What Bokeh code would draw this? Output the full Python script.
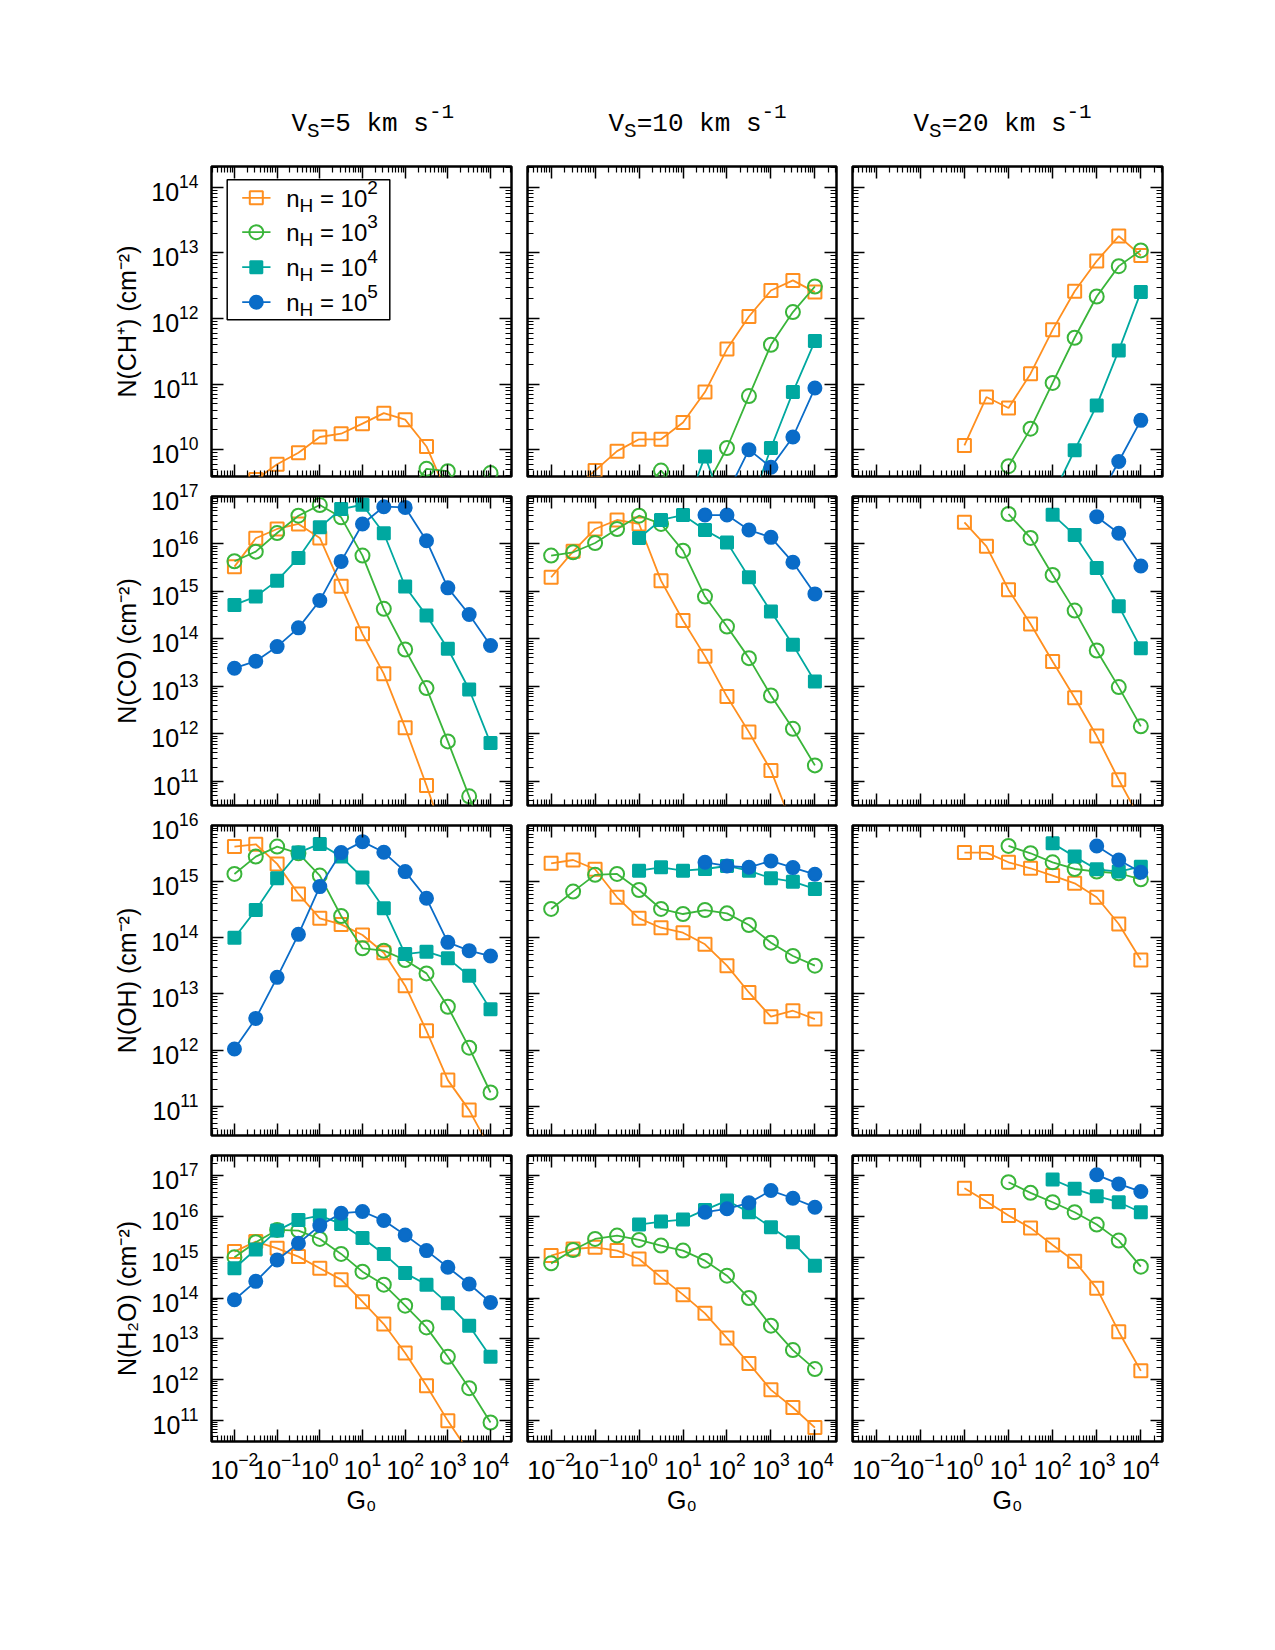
from bokeh.plotting import figure
from bokeh.layouts import column, row
from bokeh.models import (Range1d, LinearScale, LogScale, LogAxis, FixedTicker, Label,
                          ColumnDataSource, CustomJSTickFormatter)
from bokeh.embed import file_html
from bokeh.resources import INLINE

N = None

# radiation field strength G0 (half-decade grid)
g0 = [0.01, 0.0316, 0.1, 0.316, 1.0, 3.16, 10.0, 31.6, 100.0, 316.0, 1000.0, 3160.0, 10000.0]

# pre-shock densities n_H = 10^k
nh_exponents = [2, 3, 4, 5]
shock_speeds = [5, 10, 20]

# ---- N(CH+) ----
chp_v5_n2 = [2.0e9, 3.5e9, 6.0e9, 9.0e9, 1.56e10, 1.75e10, 2.49e10, 3.6e10, 2.87e10, 1.12e10, 2.0e9, N, N]
chp_v5_n3 = [N, N, N, N, N, N, N, N, 2.0e9, 5.1e9, 4.7e9, 1.5e9, 4.4e9]
chp_v5_n4 = [N, N, N, N, N, N, N, N, N, N, N, N, N]
chp_v5_n5 = [N, N, N, N, N, N, N, N, N, N, N, N, N]
chp_v10_n2 = [N, 2.5e9, 4.8e9, 9.5e9, 1.44e10, 1.44e10, 2.6e10, 7.55e10, 3.41e11, 1.07e12, 2.67e12, 3.8e12, 2.52e12]
chp_v10_n3 = [N, N, N, N, 2.0e9, 4.8e9, 2.0e9, 2.5e9, 1.06e10, 6.56e10, 3.97e11, 1.25e12, 3.07e12]
chp_v10_n4 = [N, N, N, N, N, N, 1.0e9, 7.9e9, 1.0e9, 1.2e9, 1.06e10, 7.55e10, 4.52e11]
chp_v10_n5 = [N, N, N, N, N, N, N, N, 2.1e9, 1.0e10, 5.4e9, 1.56e10, 8.7e10]
chp_v20_n2 = [N, N, N, N, 1.16e10, 6.34e10, 4.32e10, 1.44e11, 6.7e11, 2.6e12, 7.5e12, 1.8e13, 9.1e12]
chp_v20_n3 = [N, N, N, N, N, N, 5.6e9, 2.09e10, 1.04e11, 5.08e11, 2.16e12, 6.27e12, 1.09e13]
chp_v20_n4 = [N, N, N, N, N, N, N, N, 2.0e9, 9.8e9, 4.73e10, 3.26e11, 2.52e12]
chp_v20_n5 = [N, N, N, N, N, N, N, N, N, N, 1.6e9, 6.6e9, 2.8e10]

# ---- N(CO) ----
co_v5_n2 = [3.33e15, 1.32e16, 2.07e16, 2.64e16, 1.34e16, 1.29e15, 1.28e14, 1.84e13, 1.35e12, 8.2e10, 4.0e9, N, N]
co_v5_n3 = [4.32e15, 6.9e15, 1.7e16, 3.94e16, 6.6e16, 3.64e16, 5.69e15, 4.3e14, 5.98e13, 9.2e12, 6.95e11, 4.83e10, 3.0e9]
co_v5_n4 = [5.2e14, 7.8e14, 1.69e15, 5.08e15, 2.24e16, 5.45e16, 6.7e16, 1.68e16, 1.27e15, 3.1e14, 6.2e13, 8.6e12, 6.4e11]
co_v5_n5 = [2.42e13, 3.4e13, 6.9e13, 1.71e14, 6.43e14, 4.3e15, 2.64e16, 6.1e16, 5.9e16, 1.17e16, 1.19e15, 3.26e14, 7.26e13]
co_v10_n2 = [1.99e15, 7.0e15, 2.07e16, 3.2e16, 2.64e16, 1.69e15, 2.44e14, 4.34e13, 6.1e12, 1.09e12, 1.7e11, 1.1e10, N]
co_v10_n3 = [5.69e15, 6.68e15, 1.05e16, 2.07e16, 3.94e16, 2.64e16, 7.24e15, 7.8e14, 1.82e14, 3.94e13, 6.44e12, 1.28e12, 2.17e11]
co_v10_n4 = [N, N, N, N, 1.34e16, 3.2e16, 4.07e16, 1.97e16, 1.08e16, 1.99e15, 3.77e14, 7.5e13, 1.27e13]
co_v10_n5 = [N, N, N, N, N, N, N, 4.07e16, 4.07e16, 1.97e16, 1.38e16, 4.11e15, 8.87e14]
co_v20_n2 = [N, N, N, N, 2.86e16, 8.93e15, 1.09e15, 2.07e14, 3.35e13, 5.75e12, 9.0e11, 1.08e11, 1.5e10]
co_v20_n3 = [N, N, N, N, N, N, 4.28e16, 1.34e16, 2.23e15, 3.95e14, 5.7e13, 9.66e12, 1.44e12]
co_v20_n4 = [N, N, N, N, N, N, N, N, 4.14e16, 1.55e16, 3.13e15, 4.89e14, 6.38e13]
co_v20_n5 = [N, N, N, N, N, N, N, N, N, N, 3.76e16, 1.68e16, 3.44e15]

# ---- N(OH) ----
oh_v5_n2 = [4.21e15, 4.63e15, 2.07e15, 6.03e14, 2.22e14, 1.73e14, 1.12e14, 5.42e13, 1.4e13, 2.2e12, 2.91e11, 8.5e10, 1.7e10]
oh_v5_n3 = [1.37e15, 2.79e15, 4.21e15, 3.2e15, 1.28e15, 2.44e14, 6.48e13, 5.89e13, 4.01e13, 2.32e13, 5.9e12, 1.1e12, 1.75e11]
oh_v5_n4 = [1.0e14, 3.12e14, 1.15e15, 3.29e15, 4.7e15, 2.79e15, 1.18e15, 3.35e14, 5.13e13, 5.65e13, 4.3e13, 2.11e13, 5.3e12]
oh_v5_n5 = [1.04e12, 3.66e12, 1.97e13, 1.15e14, 8.15e14, 3.29e15, 5.16e15, 3.33e15, 1.51e15, 5.05e14, 8.28e13, 5.89e13, 4.73e13]
oh_v10_n2 = [2.12e15, 2.43e15, 1.66e15, 5.26e14, 2.22e14, 1.51e14, 1.23e14, 7.64e13, 3.18e13, 1.06e13, 3.92e12, 5.01e12, 3.56e12]
oh_v10_n3 = [3.26e14, 6.64e14, 1.32e15, 1.37e15, 7.1e14, 3.26e14, 2.65e14, 3.12e14, 2.72e14, 1.69e14, 8.17e13, 4.73e13, 3.18e13]
oh_v10_n4 = [N, N, N, N, 1.57e15, 1.8e15, 1.57e15, 1.68e15, 1.9e15, 1.57e15, 1.15e15, 1.0e15, 7.4e14]
oh_v10_n5 = [N, N, N, N, N, N, N, 2.21e15, 1.9e15, 1.8e15, 2.34e15, 1.78e15, 1.35e15]
oh_v20_n2 = [N, N, N, N, 3.29e15, 3.29e15, 2.21e15, 1.73e15, 1.28e15, 9.34e14, 5.26e14, 1.76e14, 4.01e13]
oh_v20_n3 = [N, N, N, N, N, N, 4.32e15, 3.2e15, 2.21e15, 1.68e15, 1.51e15, 1.41e15, 1.1e15]
oh_v20_n4 = [N, N, N, N, N, N, N, N, 4.83e15, 2.79e15, 1.66e15, 1.51e15, 1.85e15]
oh_v20_n5 = [N, N, N, N, N, N, N, N, N, N, 4.32e15, 2.43e15, 1.47e15]

# ---- N(H2O) ----
h2o_v5_n2 = [1.38e15, 2.43e15, 1.66e15, 1.04e15, 5.37e14, 2.83e14, 8.13e13, 2.3e13, 4.45e12, 6.98e11, 9.64e10, 1.6e10, N]
h2o_v5_n3 = [1.0e15, 2.34e15, 4.7e15, 4.53e15, 2.82e15, 1.21e15, 4.44e14, 2.13e14, 6.48e13, 1.9e13, 3.6e12, 6.12e11, 8.77e10]
h2o_v5_n4 = [5.37e14, 1.55e15, 4.53e15, 8.28e15, 1.06e16, 6.6e15, 2.99e15, 1.21e15, 4.12e14, 2.13e14, 7.4e13, 2.09e13, 3.6e12]
h2o_v5_n5 = [9.1e13, 2.57e14, 8.6e14, 2.21e15, 6.0e15, 1.21e16, 1.33e16, 7.98e15, 3.54e15, 1.46e15, 5.68e14, 2.21e14, 7.8e13]
h2o_v10_n2 = [1.1e15, 1.6e15, 1.76e15, 1.46e15, 9.1e14, 3.22e14, 1.21e14, 4.2e13, 1.04e13, 2.47e12, 5.57e11, 2.05e11, 6.6e10]
h2o_v10_n3 = [7.1e14, 1.51e15, 2.82e15, 3.41e15, 2.67e15, 1.94e15, 1.46e15, 8.28e14, 3.54e14, 1.0e14, 2.09e13, 5.26e12, 1.8e12]
h2o_v10_n4 = [N, N, N, N, 6.36e15, 7.53e15, 8.44e15, 1.46e16, 2.47e16, 1.28e16, 5.47e15, 2.34e15, 6.24e14]
h2o_v10_n5 = [N, N, N, N, N, N, N, 1.28e16, 1.55e16, 2.17e16, 4.36e16, 2.82e16, 1.7e16]
h2o_v20_n2 = [N, N, N, N, 4.98e16, 2.34e16, 1.06e16, 5.27e15, 2.01e15, 7.98e14, 1.73e14, 1.49e13, 1.63e12]
h2o_v20_n3 = [N, N, N, N, N, N, 6.98e16, 3.82e16, 2.25e16, 1.28e16, 6.36e15, 2.57e15, 5.89e14]
h2o_v20_n4 = [N, N, N, N, N, N, N, N, 8.13e16, 4.79e16, 3.16e16, 2.25e16, 1.28e16]
h2o_v20_n5 = [N, N, N, N, N, N, N, N, N, N, 1.06e17, 6.35e16, 4.12e16]

y_labels = ["N(CH\u207a) (cm\u207b\u00b2)", "N(CO) (cm\u207b\u00b2)", "N(OH) (cm\u207b\u00b2)", "N(H\u2082O) (cm\u207b\u00b2)"]
y_ranges = [(3.9e9, 2.07e14), (3.1e10, 1.0e17), (3.0e10, 1.0e16), (3.0e10, 3.16e17)]
y_decades = [(10, 14), (11, 17), (11, 16), (11, 17)]
x_range = (0.0029, 31000.0)
x_decades = (-2, 4)

panels = [
    [[chp_v5_n2, chp_v5_n3, chp_v5_n4, chp_v5_n5],
     [chp_v10_n2, chp_v10_n3, chp_v10_n4, chp_v10_n5],
     [chp_v20_n2, chp_v20_n3, chp_v20_n4, chp_v20_n5]],
    [[co_v5_n2, co_v5_n3, co_v5_n4, co_v5_n5],
     [co_v10_n2, co_v10_n3, co_v10_n4, co_v10_n5],
     [co_v20_n2, co_v20_n3, co_v20_n4, co_v20_n5]],
    [[oh_v5_n2, oh_v5_n3, oh_v5_n4, oh_v5_n5],
     [oh_v10_n2, oh_v10_n3, oh_v10_n4, oh_v10_n5],
     [oh_v20_n2, oh_v20_n3, oh_v20_n4, oh_v20_n5]],
    [[h2o_v5_n2, h2o_v5_n3, h2o_v5_n4, h2o_v5_n5],
     [h2o_v10_n2, h2o_v10_n3, h2o_v10_n4, h2o_v10_n5],
     [h2o_v20_n2, h2o_v20_n3, h2o_v20_n4, h2o_v20_n5]],
]

# series styling, one per density
ORANGE, GREEN, TEAL, BLUE = "#ff8f1f", "#3ab53a", "#00a8a0", "#0a6cc8"
styles = [
    dict(color=ORANGE, marker="square", filled=False, size=13),
    dict(color=GREEN, marker="circle", filled=False, size=14),
    dict(color=TEAL, marker="square", filled=True, size=12),
    dict(color=BLUE, marker="circle", filled=True, size=13),
]

# page geometry (pixels)
HEADER_H = 160
FRAME_W = [300, 309, 310]
FRAME_H = [310, 309, 310, 286]
PAD_L = [211, 8, 8]
PAD_R = [8, 8, 8]
PAD_T = [6, 18, 18, 18]
PAD_B = [2, 2, 2, 100]

SANS = "Liberation Sans"
MONO = "Liberation Mono"
BASELINE_FIX = 7  # lift for alphabetic-baseline labels
ARIAL_W = {"n": 0.556, "H": 0.722, " ": 0.278, "=": 0.584, "0": 0.556, "1": 0.556,
           "2": 0.556, "3": 0.556, "4": 0.556, "5": 0.556}


def text_width(s, size, mono=False):
    if mono:
        return 0.6 * size * len(s)
    return sum(ARIAL_W.get(ch, 0.556) for ch in s) * size


def compose(p, pieces, x0, y0, font, mono=False):
    """Lay out a run of text pieces (text, size, baseline shift) left to right."""
    x = x0
    for txt, size, dy in pieces:
        if txt.strip():
            p.add_layout(Label(x=x, y=y0 + dy + BASELINE_FIX, x_units="screen", y_units="screen",
                               text=txt, text_font=font, text_font_size=f"{size}px",
                               text_color="black", text_baseline="alphabetic", text_align="left"))
        x += text_width(txt, size, mono)


def log_ticker(lo, hi):
    majors = [10.0 ** k for k in range(lo, hi + 1)]
    minors = [m * 10.0 ** k for k in range(lo - 1, hi + 1) for m in range(2, 10)]
    return FixedTicker(ticks=majors, minor_ticks=minors)


def add_axis(p, side, ticker, labels, axis_label=None):
    ax = LogAxis(ticker=ticker)
    ax.major_tick_in = 12
    ax.major_tick_out = 0
    ax.minor_tick_in = 6
    ax.minor_tick_out = 0
    ax.major_tick_line_width = 1.5
    ax.minor_tick_line_width = 1.2
    ax.major_tick_line_color = "black"
    ax.minor_tick_line_color = "black"
    ax.axis_line_color = None
    if labels:
        ax.major_label_text_font = SANS
        ax.major_label_text_font_size = "25px"
        ax.major_label_text_color = "black"
        ax.major_label_standoff = 13 if side == "left" else 10
    else:
        ax.formatter = CustomJSTickFormatter(code="return ''")
        ax.major_label_text_font_size = "0px"
        ax.major_label_standoff = 0
    if axis_label:
        ax.axis_label = axis_label
        ax.axis_label_text_font = SANS
        ax.axis_label_text_font_size = "25px"
        ax.axis_label_text_font_style = "normal"
        ax.axis_label_text_color = "black"
        ax.axis_label_standoff = 7 if side == "left" else 4
    else:
        ax.axis_label_standoff = 0
    p.add_layout(ax, side)


def make_panel(ri, ci):
    fw, fh = FRAME_W[ci], FRAME_H[ri]
    p = figure(width=PAD_L[ci] + fw + PAD_R[ci], height=PAD_T[ri] + fh + PAD_B[ri],
               x_range=Range1d(*x_range), y_range=Range1d(*y_ranges[ri]),
               x_axis_type="log", y_axis_type="log",
               x_axis_location=None, y_axis_location=None,
               output_backend="svg", toolbar_location=None,
               min_border_left=PAD_L[ci], min_border_right=PAD_R[ci],
               min_border_top=PAD_T[ri], min_border_bottom=PAD_B[ri])
    p.x_scale = LogScale()
    p.y_scale = LogScale()
    p.grid.visible = False
    p.background_fill_color = "white"
    p.border_fill_color = "white"
    p.outline_line_color = "black"
    p.outline_line_width = 2.5

    xt = log_ticker(*x_decades)
    yt = log_ticker(*y_decades[ri])
    add_axis(p, "below", xt, ri == 3, "G\u2080" if ri == 3 else None)
    add_axis(p, "above", xt, False)
    add_axis(p, "left", yt, ci == 0, y_labels[ri] if ci == 0 else None)
    add_axis(p, "right", yt, False)

    for series, st in zip(panels[ri][ci], styles):
        ys = [float("nan") if v is None else v for v in series]
        src = ColumnDataSource(data=dict(x=g0, y=ys))
        p.line("x", "y", source=src, line_color=st["color"], line_width=1.8)
        p.scatter("x", "y", source=src, marker=st["marker"], size=st["size"],
                  line_color=st["color"], line_width=2.0,
                  fill_color=st["color"] if st["filled"] else None)
    return p


figs = [[make_panel(ri, ci) for ci in range(3)] for ri in range(4)]

# header strip with the column headings (shock speed)
page_w = sum(PAD_L) + sum(FRAME_W) + sum(PAD_R)
header = figure(width=page_w, height=HEADER_H, x_range=Range1d(0, page_w), y_range=Range1d(0, HEADER_H),
                x_axis_location=None, y_axis_location=None, output_backend="svg", toolbar_location=None,
                min_border=0)
header.grid.visible = False
header.outline_line_color = None
header.background_fill_color = "white"
header.border_fill_color = "white"
title_x = [291, 608, 913]
for ci, vs in enumerate(shock_speeds):
    compose(header, [("V", 26, 0), ("S", 21, -8), (f"={vs} km s", 26, 0), ("-1", 21, 12)],
            title_x[ci], HEADER_H - 130, MONO, mono=True)

# key in the upper-left panel, laid out in frame pixels
pk = figs[0][0]
pk.extra_x_ranges = {"px": Range1d(0, FRAME_W[0])}
pk.extra_y_ranges = {"px": Range1d(0, FRAME_H[0])}
pk.extra_x_scales = {"px": LinearScale()}
pk.extra_y_scales = {"px": LinearScale()}
pk.quad(left=[15.7], right=[178.3], bottom=[156.7], top=[296.7], x_range_name="px", y_range_name="px",
        fill_color="white", line_color="black", line_width=1.5)
key_rows = [278.7, 244.3, 209.3, 174.3]
for yc, st, k in zip(key_rows, styles, nh_exponents):
    pk.segment(x0=[30.7], y0=[yc], x1=[59.0], y1=[yc], x_range_name="px", y_range_name="px",
               line_color=st["color"], line_width=1.8)
    pk.scatter(x=[44.8], y=[yc], x_range_name="px", y_range_name="px", marker=st["marker"],
               size=st["size"], line_color=st["color"], line_width=2.0,
               fill_color=st["color"] if st["filled"] else None)
    compose(pk, [("n", 24, 0), ("H", 19, -6.5), (" ", 24, 0), ("=", 24, 0), (" ", 24, 0),
                 ("10", 24, 0), (str(k), 19, 11)],
            74.7, yc - 7.7, SANS)

layout = column(header, *[row(*r) for r in figs])
open("out.html", "w").write(file_html(layout, INLINE))
